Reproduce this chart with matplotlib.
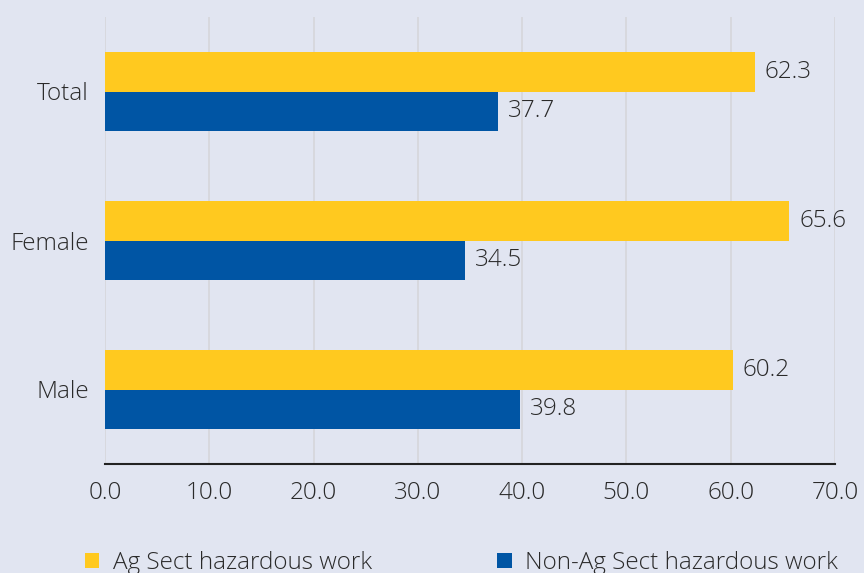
import matplotlib
matplotlib.use("Agg")
import matplotlib.pyplot as plt
from matplotlib.patches import Patch
import numpy as np

categories = ["Male", "Female", "Total"]
ag_values = [60.2, 65.6, 62.3]
nonag_values = [39.8, 34.5, 37.7]
series_names = ["Ag Sect hazardous work", "Non-Ag Sect hazardous work"]
xticks = [0, 10, 20, 30, 40, 50, 60, 70]

BG = "#e1e5f1"
YELLOW = "#ffc91f"
BLUE = "#0055a4"
TXT = "#2a2a2a"
BASE = ["Open Sans", "DejaVu Sans"]
FS = 17.5
W = "light"

fig = plt.figure(figsize=(8.64, 5.73), dpi=100, facecolor=BG)
ax = fig.add_axes([105/864, 1-464/573, 730/864, (464-17)/573], facecolor=BG)

y = np.arange(len(categories))
h = 0.262
ax.barh(y + h/2, ag_values, height=h, color=YELLOW, zorder=3)
ax.barh(y - h/2, nonag_values, height=h, color=BLUE, zorder=3)

for yi, v in zip(y, ag_values):
    ax.text(v + 0.95, yi + h/2, f"{v:.1f}", va="center", ha="left",
            fontsize=FS, color=TXT, family=BASE, fontweight=W)
for yi, v in zip(y, nonag_values):
    ax.text(v + 0.95, yi - h/2, f"{v:.1f}", va="center", ha="left",
            fontsize=FS, color=TXT, family=BASE, fontweight=W)

ax.set_xlim(0, 70)
ax.set_ylim(-0.5, 2.5)
ax.set_xticks(xticks)
ax.set_xticklabels([f"{t:.1f}" for t in xticks], family=BASE, fontsize=FS, color=TXT, fontweight=W)
ax.set_yticks(y)
ax.set_yticklabels(categories, family=BASE, fontsize=FS, color=TXT, fontweight=W)
ax.tick_params(axis="x", length=0, pad=12.5)
ax.tick_params(axis="y", length=0, pad=11.5)

ax.grid(axis="x", color="#d6d7dc", linewidth=1.3, zorder=0)
for s in ["top", "right", "left"]:
    ax.spines[s].set_visible(False)
ax.spines["bottom"].set_color("#222222")
ax.spines["bottom"].set_linewidth(1.5)
ax.spines["bottom"].set_zorder(4)

handles = [Patch(facecolor=YELLOW, edgecolor="none"), Patch(facecolor=BLUE, edgecolor="none")]
leg = fig.legend(handles, series_names, loc="center left",
                 bbox_to_anchor=(75/864, 1-563/573), ncol=2, frameon=False,
                 prop={"family": BASE, "size": FS, "weight": W}, handlelength=0.6, handleheight=0.6,
                 handletextpad=0.55, columnspacing=5.15, labelcolor=TXT, borderaxespad=0)

fig.savefig("out.png", dpi=100, facecolor=BG)
